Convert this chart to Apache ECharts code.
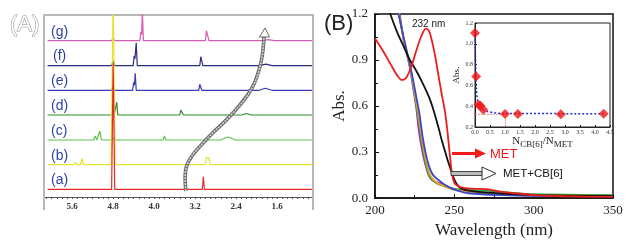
<!DOCTYPE html>
<html>
<head>
<meta charset="utf-8">
<script src="https://cdn.jsdelivr.net/npm/echarts@6/dist/echarts.min.js"></script>
<style>
  html, body { margin: 0; padding: 0; background: #fff; }
  #main { width: 634px; height: 244px; }
</style>
</head>
<body>
<div id="main"></div>
<script>
// ---- panel (A): 1H NMR spectra, [ppm, intensity] ----
var specA = [[6.08,0],[4.83,0],[4.8,126],[4.77,0],[3.06,0],[3.04,12.5],[3.02,0],[0.92,0]];
var specB = [[6.08,0],[5.57,0],[5.54,2.5],[5.51,0],[5.44,0],[5.41,6],[5.38,0],[4.84,0],[4.8,170],[4.76,0],
             [4.18,0],[4.15,2],[4.12,0],[3.0,0],[2.98,7],[2.93,7],[2.91,0],[0.92,0]];
var specC = [[6.08,0],[5.18,0],[5.15,4],[5.12,0],[5.09,0],[5.06,9],[5.03,0],[4.84,0],[4.8,2],[4.76,0],
             [3.83,0],[3.8,4],[3.77,0],[2.7,0],[2.62,2],[2.56,3],[2.5,2],[2.42,0],[0.92,0]];
var specD = [[6.08,0],[4.83,0],[4.8,10],[4.78,0],[4.75,0],[4.73,13],[4.71,0],[3.5,0],[3.48,5],[3.45,5],[3.43,0],
             [2.3,0],[2.2,1.5],[2.1,0],[0.92,0]];
var specE = [[6.08,0],[4.83,0],[4.8,4],[4.77,0],[4.42,0],[4.4,8],[4.385,5],[4.37,17],[4.35,0],
             [3.13,0],[3.11,6],[3.09,6],[3.07,0],[1.95,0],[1.83,2],[1.7,0],[0.92,0]];
var specF = [[6.08,0],[4.83,0],[4.8,5],[4.77,0],[4.41,0],[4.39,10],[4.375,7],[4.35,23],[4.33,0],
             [3.11,0],[3.09,9],[3.07,9],[3.05,0],[1.95,0],[1.82,1.5],[1.7,0],[0.92,0]];
var specG = [[6.08,0],[4.83,0],[4.8,3],[4.77,0],[4.28,0],[4.26,9],[4.245,6],[4.23,30],[4.21,0],
             [3.0,0],[2.98,10],[2.95,10],[2.93,0],[1.9,0],[1.78,1],[1.65,0],[0.92,0]];
var specNames = ['(g)','(f)','(e)','(d)','(c)','(b)','(a)'];
var nmrLabels = [5.6, 4.8, 4.0, 3.2, 2.4, 1.6];

// ---- panel (B): UV-vis, [wavelength nm, Abs.] ----
var uvMET = [[200,1.04],[205,0.96],[210,0.87],[214,0.8],[217,0.77],[220,0.79],[223,0.86],[226,0.96],[229,1.05],
             [232,1.105],[234,1.09],[236,1.02],[238,0.92],[240,0.8],[242,0.68],[244,0.57],[245.5,0.45],[247,0.3],
             [248.5,0.16],[250,0.1],[252,0.08],[255,0.068],[260,0.062],[265,0.06],[270,0.058],[275,0.05],
             [280,0.04],[290,0.03],[300,0.02],[320,0.012],[350,0.008]];
var uvCB = [[208,1.25],[210,1.19],[214,1.08],[218,0.99],[222,0.9],[226,0.83],[230,0.75],[234,0.66],[237,0.57],
            [240,0.46],[242,0.38],[244,0.31],[246,0.24],[248,0.18],[250,0.12],[252,0.085],[254,0.065],[258,0.05],
            [265,0.04],[280,0.03],[300,0.02],[350,0.012]];
var uvBlue = [[213.5,1.25],[215,1.19],[218,1.05],[220,0.96],[222,0.87],[224,0.77],[226,0.66],[228,0.55],[230,0.4],
              [232,0.29],[234,0.21],[236,0.16],[238,0.135],[241,0.11],[245,0.08],[250,0.055],[255,0.04],[260,0.03],
              [280,0.02],[300,0.015],[350,0.012]];
var uvOrange = [[214,1.25],[215,1.2],[218,1.04],[220,0.95],[222,0.86],[224,0.75],[226,0.63],[228,0.5],[230,0.36],
                [232,0.25],[234,0.17],[236,0.13],[239,0.1],[243,0.08],[248,0.06],[255,0.045],[265,0.035],[280,0.025],
                [300,0.018],[350,0.015]];
var uvGreen = [[214.3,1.25],[215,1.21],[218,1.04],[220,0.95],[222,0.855],[224,0.74],[226,0.61],[228,0.47],[230,0.33],
               [232,0.22],[234,0.15],[236,0.12],[239,0.095],[243,0.08],[248,0.065],[255,0.055],[265,0.05],[275,0.045],
               [285,0.035],[300,0.025],[350,0.02]];
var uvPurple = [[214.8,1.25],[215.5,1.21],[218,1.03],[220,0.94],[222,0.85],[224,0.72],[226,0.59],[227.5,0.45],[229,0.35],
                [230.5,0.27],[232.5,0.19],[234.5,0.135],[237,0.11],[240,0.1],[243,0.09],[248,0.065],[255,0.045],
                [265,0.03],[280,0.022],[300,0.018],[350,0.018]];

// ---- inset: Abs. vs N(CB[6])/N(MET) ----
var ratio = [0.0, 0.04, 0.12, 0.18, 0.28, 1.0, 1.43, 2.86, 4.29];
var absAt232 = [1.105, 0.685, 0.415, 0.405, 0.365, 0.325, 0.325, 0.322, 0.327];
var fitLine = [[0.0,1.12],[0.02,0.8],[0.05,0.55],[0.1,0.43],[0.2,0.38],[0.4,0.35],[0.7,0.335],[1.0,0.33],[4.3,0.328]];

var chartDom = document.getElementById('main');
var myChart = echarts.init(chartDom);
var option;

var specs = [specG, specF, specE, specD, specC, specB, specA];
var specOffsets = [156.3, 131.3, 106.7, 82, 57, 32.3, 7.7];
var specColors = ['#d45cb4', '#2c2c80', '#3a3ab8', '#2e8b2e', '#5ec44c', '#e8e22c', '#e42a24'];

var nmrTicks = [];
for (var t = 10; t <= 61; t++) nmrTicks.push(t / 10);

var serif = 'Liberation Serif';
var sans = 'Liberation Sans';

var series = [];
specs.forEach(function (s, i) {
  series.push({
    type: 'line',
    xAxisIndex: 0,
    yAxisIndex: 0,
    data: s.map(function (p) { return [p[0], p[1] + specOffsets[i]]; }),
    symbol: 'none',
    lineStyle: { color: specColors[i], width: 1.2 },
    z: 2 + i
  });
});

var uvSets = [
  [uvPurple, '#a22fc4'], [uvGreen, '#2ea23a'], [uvOrange, '#f0a020'],
  [uvBlue, '#3a48c8'], [uvCB, '#111111'], [uvMET, '#ee1c1c']
];
uvSets.forEach(function (u) {
  series.push({
    type: 'line',
    xAxisIndex: 1,
    yAxisIndex: 1,
    data: u[0],
    symbol: 'none',
    smooth: 0.3,
    lineStyle: { color: u[1], width: 1.8 }
  });
});

series.push({
  type: 'line',
  xAxisIndex: 2,
  yAxisIndex: 2,
  data: fitLine,
  symbol: 'none',
  smooth: 0.2,
  lineStyle: { color: '#2233cc', width: 1.5, type: [2, 2] },
  markLine: {
    silent: true,
    symbol: 'none',
    label: { show: false },
    lineStyle: { color: '#f08080', width: 0.8, type: [2, 1] },
    data: [
      [{ coord: [0, 0.325] }, { coord: [1.0, 0.325] }],
      [{ coord: [1.0, 0.2] }, { coord: [1.0, 0.325] }]
    ]
  },
  z: 5
});
series.push({
  type: 'scatter',
  xAxisIndex: 2,
  yAxisIndex: 2,
  data: ratio.map(function (r, i) { return [r, absAt232[i]]; }),
  symbol: 'diamond',
  symbolSize: [10, 10],
  itemStyle: { color: '#f01414' },
  z: 6
});

function txt(x, y, s, font, size, color, extra) {
  var st = { text: s, x: x, y: y, font: size + 'px "' + font + '"', fill: color,
             textAlign: 'left', textVerticalAlign: 'middle' };
  if (extra) Object.assign(st, extra);
  return { type: 'text', z: 100, style: st };
}

var arrowPts = [[186, 191], [187, 165], [205, 141], [232, 114], [252, 88], [261, 62], [264, 37]];
var graphics = [
  // panel A frame
  { type: 'polyline', z: 1, shape: { points: [[44, 210], [44, 15], [313, 15], [313, 210]] },
    style: { stroke: '#b8b8b8', lineWidth: 2, fill: null } },
  txt(10, 25, '(A)', sans, 22, '#ffffff', { stroke: '#888', lineWidth: 1 }),
  // curved hollow arrow in A
  { type: 'polyline', z: 50, shape: { points: arrowPts, smooth: 0.4 },
    style: { stroke: '#6a6a6a', lineWidth: 3.6, fill: null } },
  { type: 'polyline', z: 51, shape: { points: arrowPts, smooth: 0.4 },
    style: { stroke: '#d8d8d8', lineWidth: 1.6, fill: null, lineDash: [2, 1] } },
  { type: 'polygon', z: 52, shape: { points: [[259.5, 37], [269.5, 37], [265, 28]] },
    style: { stroke: '#666', lineWidth: 1, fill: '#fff' } },
  // panel B texts
  txt(324, 24, '(B)', sans, 22, '#222'),
  txt(412, 24, '232 nm', sans, 10, '#222'),
  txt(490, 154, 'MET', sans, 13, '#ee1c1c'),
  txt(503, 173.5, 'MET+CB[6]', sans, 11.5, '#111'),
  // red arrow
  { type: 'line', z: 60, shape: { x1: 452, y1: 153.5, x2: 478, y2: 153.5 }, style: { stroke: '#ee1c1c', lineWidth: 3 } },
  { type: 'polygon', z: 60, shape: { points: [[475, 148.5], [486, 153.5], [475, 158.5]] }, style: { fill: '#ee1c1c' } },
  // hollow arrow
  { type: 'rect', z: 60, shape: { x: 451, y: 171.5, width: 32, height: 4 }, style: { fill: '#bbb', stroke: '#222', lineWidth: 0.8 } },
  { type: 'polygon', z: 61, shape: { points: [[482, 167], [496, 173.5], [482, 180]] }, style: { fill: '#fff', stroke: '#333', lineWidth: 1 } }
];
specNames.forEach(function (n, i) {
  graphics.push(txt(i === 1 ? 53 : 51, 31.7 + i * 24.8, n, sans, 14, '#2f40a8'));
});

option = {
  backgroundColor: '#fff',
  animation: false,
  grid: [
    { left: 44, top: 15, width: 269, height: 182 },
    { left: 375, top: 14, width: 238, height: 189, show: true, borderColor: '#111', borderWidth: 1.5 },
    { left: 475, top: 23, width: 135, height: 104, show: true, backgroundColor: '#fff', borderColor: '#222', borderWidth: 1 }
  ],
  xAxis: [
    { gridIndex: 0, type: 'value', inverse: true, min: 0.9, max: 6.15,
      axisLine: { lineStyle: { color: '#555', width: 1 } },
      axisTick: { customValues: nmrTicks, length: 2, lineStyle: { color: '#555' } },
      axisLabel: { customValues: nmrLabels, formatter: function (v) { return v.toFixed(1); },
                   fontFamily: serif, fontWeight: 'bold', fontSize: 9, color: '#333', margin: 5 },
      splitLine: { show: false } },
    { gridIndex: 1, type: 'value', min: 200, max: 350, interval: 50,
      name: 'Wavelength (nm)', nameLocation: 'middle', nameGap: 19,
      nameTextStyle: { fontFamily: serif, fontSize: 17, color: '#222' },
      axisLine: { lineStyle: { color: '#111', width: 1.5 } },
      axisTick: { inside: true, length: 4, lineStyle: { color: '#111' } },
      minorTick: { show: true, splitNumber: 2, length: 3, lineStyle: { color: '#111' } },
      axisLabel: { fontFamily: serif, fontSize: 13, color: '#222', margin: 6 },
      splitLine: { show: false } },
    { gridIndex: 2, type: 'value', min: 0, max: 4.5, interval: 0.5,
      name: '{n|N}{s|CB[6]}{n|/N}{s|MET}', nameLocation: 'middle', nameGap: 7,
      nameTextStyle: { rich: {
        n: { fontFamily: serif, fontSize: 11, color: '#222' },
        s: { fontFamily: serif, fontSize: 9, color: '#222', padding: [6, 0, 0, 0] } } },
      axisLine: { lineStyle: { color: '#222', width: 1 } },
      axisTick: { inside: true, length: 2, lineStyle: { color: '#222' } },
      axisLabel: { fontFamily: serif, fontSize: 6, color: '#333', margin: 2,
                   formatter: function (v) { return v.toFixed(1); } },
      splitLine: { show: false } }
  ],
  yAxis: [
    { gridIndex: 0, type: 'value', min: 0, max: 182, show: false },
    { gridIndex: 1, type: 'value', min: 0, max: 1.2, interval: 0.3,
      name: 'Abs.', nameLocation: 'middle', nameGap: 27,
      nameTextStyle: { fontFamily: serif, fontSize: 17, color: '#222' },
      axisLine: { lineStyle: { color: '#111', width: 1.5 } },
      axisTick: { inside: true, length: 4, lineStyle: { color: '#111' } },
      minorTick: { show: true, splitNumber: 2, length: 3, lineStyle: { color: '#111' } },
      axisLabel: { fontFamily: serif, fontSize: 13, color: '#222', margin: 7,
                   formatter: function (v) { return v.toFixed(1); } },
      splitLine: { show: false } },
    { gridIndex: 2, type: 'value', min: 0.2, max: 1.2, interval: 0.2,
      name: 'Abs.', nameLocation: 'middle', nameGap: 14,
      nameTextStyle: { fontFamily: serif, fontSize: 9, color: '#222' },
      axisLine: { lineStyle: { color: '#222', width: 1 } },
      axisTick: { inside: true, length: 2, lineStyle: { color: '#222' } },
      axisLabel: { fontFamily: serif, fontSize: 6, color: '#333', margin: 2,
                   formatter: function (v) { return v.toFixed(1); } },
      splitLine: { show: false } }
  ],
  series: series,
  graphic: graphics
};

option && myChart.setOption(option);
</script>
</body>
</html>
